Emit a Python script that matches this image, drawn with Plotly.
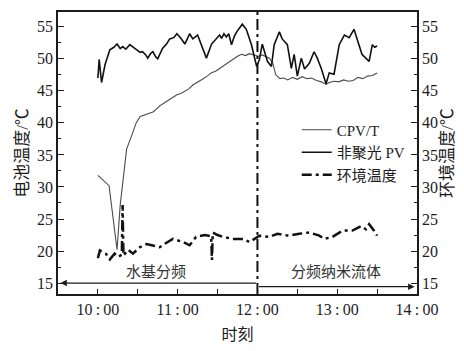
import plotly.graph_objects as go

# Time of day in decimal hours
cpvt_time = [10.00, 10.05, 10.10, 10.14, 10.19, 10.24, 10.28, 10.32, 10.36, 10.42, 10.48,
             10.53, 10.57, 10.63, 10.69, 10.73, 10.78, 10.83, 10.88, 10.93, 10.99, 11.04,
             11.09, 11.14, 11.19, 11.25, 11.31, 11.37, 11.42, 11.48, 11.54, 11.60, 11.65,
             11.70, 11.75, 11.80, 11.85, 11.90, 11.95, 12.01, 12.06, 12.11, 12.15, 12.19,
             12.23, 12.28, 12.33, 12.38, 12.44, 12.50, 12.56, 12.62, 12.68, 12.74, 12.80,
             12.86, 12.90, 12.96, 13.02, 13.08, 13.14, 13.20, 13.26, 13.32, 13.38, 13.44, 13.50]
cpvt_temp = [31.8, 31.2, 30.7, 30.2, 25.2, 20.2, 27.2, 31.5, 35.9, 37.9, 40.0,
             41.0, 41.2, 41.4, 41.7, 42.1, 42.7, 43.1, 43.5, 44.0, 44.4, 44.6,
             45.0, 45.3, 45.9, 46.3, 46.8, 47.3, 47.8, 48.1, 48.6, 49.2, 49.6,
             50.0, 50.4, 50.7, 50.5, 50.8, 50.6, 50.4, 50.6, 50.3, 50.1, 49.4,
             47.5, 46.9, 47.0, 46.7, 47.1, 46.8, 47.2, 46.9, 47.0, 46.6, 46.4,
             46.0, 46.3, 46.5, 46.4, 46.7, 46.5, 46.6, 47.1, 46.9, 47.3, 47.4, 47.8]

pv_time = [10.00, 10.016, 10.046, 10.09, 10.15, 10.20, 10.24, 10.28, 10.31, 10.35, 10.40,
           10.45, 10.49, 10.53, 10.56, 10.60, 10.625, 10.66, 10.69, 10.72, 10.75, 10.81,
           10.86, 10.90, 10.95, 10.99, 11.04, 11.09, 11.15, 11.19, 11.25, 11.30, 11.36,
           11.425, 11.47, 11.525, 11.55, 11.58, 11.61, 11.64, 11.675, 11.71, 11.74, 11.81,
           11.86, 11.925, 11.99, 12.025, 12.06, 12.125, 12.175, 12.21, 12.275, 12.31,
           12.375, 12.425, 12.46, 12.50, 12.55, 12.59, 12.65, 12.71, 12.75, 12.80, 12.86,
           12.90, 12.96, 13.025, 13.09, 13.15, 13.21, 13.25, 13.31, 13.40, 13.44, 13.47, 13.50]
pv_temp = [47.0, 49.9, 46.3, 49.1, 51.4, 51.8, 52.3, 51.6, 51.9, 51.5, 52.2,
           51.7, 51.4, 51.0, 51.1, 50.6, 50.1, 50.8, 51.1, 50.4, 50.0, 51.6,
           52.3, 53.1, 53.3, 53.9, 53.2, 52.3, 53.9, 53.1, 53.7, 52.2, 50.1,
           52.3, 52.9, 53.7, 53.2, 53.9, 53.4, 53.9, 52.2, 53.5, 54.2, 55.4,
           54.6, 52.2, 48.8, 49.9, 52.3, 49.6, 48.8, 52.2, 54.2, 53.1,
           52.2, 48.5, 50.7, 47.3, 50.1, 48.4, 49.3, 51.1, 50.1, 48.5, 46.1,
           47.8, 47.6, 52.2, 53.7, 53.3, 54.6, 53.1, 50.7, 49.6, 52.2, 51.8, 52.0]

amb_time = [10.00, 10.025, 10.10, 10.15, 10.21, 10.25, 10.30, 10.31, 10.32, 10.38, 10.44,
            10.525, 10.61, 10.69, 10.775, 10.86, 10.94, 11.07, 11.15, 11.23, 11.34, 11.42,
            11.43, 11.44, 11.50, 11.57, 11.69, 11.82, 11.90, 12.025, 12.15, 12.25, 12.39,
            12.525, 12.65, 12.775, 12.84, 12.94, 13.07, 13.19, 13.30, 13.36, 13.40, 13.46, 13.50]
amb_temp = [18.9, 20.1, 19.6, 18.7, 19.6, 19.1, 19.4, 27.2, 19.3, 20.2, 19.6,
            20.6, 21.1, 20.9, 20.6, 21.3, 21.9, 21.4, 20.9, 22.2, 22.5, 22.3,
            18.6, 22.9, 22.5, 22.2, 21.9, 21.9, 21.4, 22.4, 22.2, 22.7, 22.4,
            22.7, 22.9, 22.4, 21.9, 22.2, 23.2, 23.2, 23.9, 23.4, 24.2, 23.2, 22.4]

hour_ticks = [10, 11, 12, 13, 14]
hour_labels = ["10\u2009:\u200900", "11\u2009:\u200900", "12\u2009:\u200900",
               "13\u2009:\u200900", "14\u2009:\u200900"]
temp_ticks = [15, 20, 25, 30, 35, 40, 45, 50, 55]

SERIF = "Liberation Serif, Noto Sans CJK SC"
INK = "#1c1c1c"
Y_RANGE = [13.3, 57.3]

fig = go.Figure()
fig.add_trace(go.Scatter(x=cpvt_time, y=cpvt_temp, mode="lines", name="CPV/T",
                         line=dict(color="#4a4a4a", width=1.1)))
fig.add_trace(go.Scatter(x=pv_time, y=pv_temp, mode="lines", name="非聚光 PV",
                         line=dict(color="#111111", width=1.6)))
fig.add_trace(go.Scatter(x=amb_time, y=amb_temp, mode="lines", name="环境温度", yaxis="y2",
                         line=dict(color="#111111", width=2.5, dash="10px,4px,3px,4px")))

# divider between the two operating modes
fig.add_shape(type="line", x0=12, x1=12, y0=0, y1=1, xref="x", yref="paper",
              line=dict(color="#111111", width=2, dash="11px,4px,3px,4px"))

# mode spans along the bottom
fig.add_annotation(x=9.53, y=15.0, ax=12.0, ay=15.0, xref="x", yref="y", axref="x", ayref="y",
                   text="", showarrow=True, arrowhead=2, arrowsize=1, arrowwidth=1.3,
                   arrowcolor=INK)
fig.add_annotation(x=13.97, y=14.45, ax=12.0, ay=14.45, xref="x", yref="y", axref="x", ayref="y",
                   text="", showarrow=True, arrowhead=2, arrowsize=1, arrowwidth=1.3,
                   arrowcolor=INK)
fig.add_annotation(x=10.73, y=16.7, xref="x", yref="y", text="水基分频", showarrow=False,
                   font=dict(family=SERIF, size=15, color="#333333"))
fig.add_annotation(x=12.99, y=16.7, xref="x", yref="y", text="分频纳米流体", showarrow=False,
                   font=dict(family=SERIF, size=15, color="#333333"))

axis_common = dict(showline=True, linecolor=INK, linewidth=1.5, showgrid=False, zeroline=False,
                   ticks="inside", tickcolor=INK, tickwidth=1.2,
                   tickfont=dict(family=SERIF, size=16, color=INK))

fig.update_layout(
    width=464, height=351,
    margin=dict(l=58, r=47, t=10, b=53),
    paper_bgcolor="white", plot_bgcolor="white",
    showlegend=True,
    legend=dict(x=0.665, y=0.64, xanchor="left", yanchor="top", bgcolor="rgba(0,0,0,0)",
                font=dict(family=SERIF, size=15, color=INK), tracegroupgap=0,
                itemwidth=30),
    xaxis=dict(range=[9.5, 14.0], tickvals=hour_ticks, ticktext=hour_labels, ticklen=5,
               mirror=True,
               minor=dict(dtick=0.5, tick0=10, ticklen=5, ticks="inside", tickcolor=INK),
               title=dict(text="时刻", font=dict(family=SERIF, size=16, color=INK), standoff=12),
               **axis_common),
    yaxis=dict(range=Y_RANGE, tickvals=temp_ticks, ticklen=6,
               minor=dict(dtick=2.5, tick0=15, ticklen=3, ticks="inside", tickcolor=INK),
               title=dict(text="电池温度/℃", font=dict(family=SERIF, size=17, color=INK),
                          standoff=4),
               **axis_common),
    yaxis2=dict(range=Y_RANGE, tickvals=temp_ticks, ticklen=6, overlaying="y", side="right",
                minor=dict(dtick=2.5, tick0=15, ticklen=3, ticks="inside", tickcolor=INK),
                title=dict(text="环境温度/℃", font=dict(family=SERIF, size=17, color=INK),
                           standoff=4),
                **axis_common),
)

fig.write_html("out.html")
